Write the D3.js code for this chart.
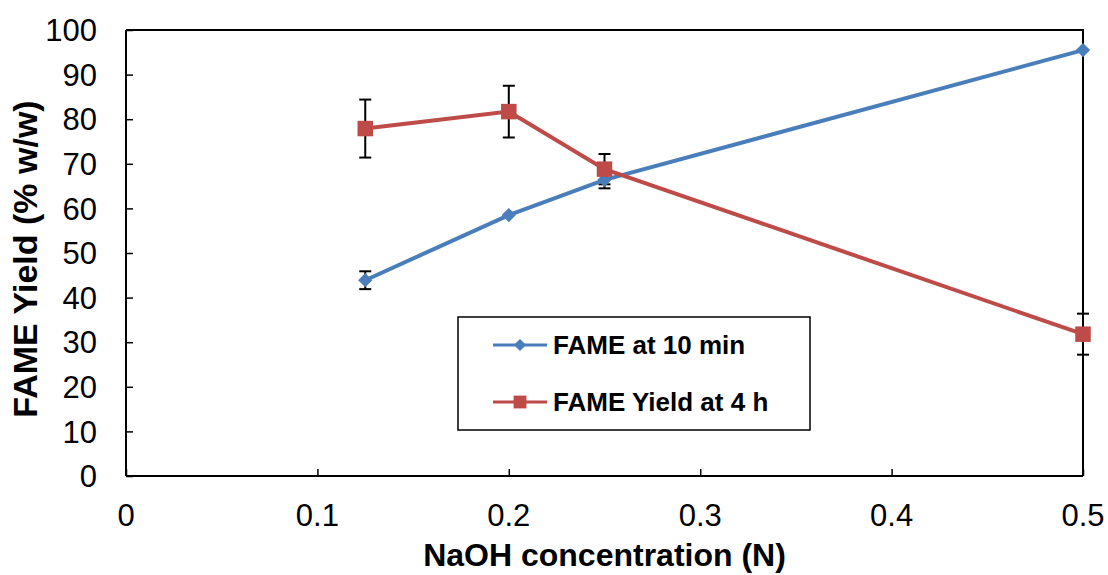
<!DOCTYPE html>
<html>
<head>
<meta charset="utf-8">
<script src="https://cdn.jsdelivr.net/npm/d3@7"></script>
<style>
  html, body { margin: 0; padding: 0; background: #fff; }
  svg { display: block; font-family: "Liberation Sans", Arial, sans-serif; }
</style>
</head>
<body>
<svg id="chart" width="1108" height="575"></svg>
<script>
// --- data ---
const NAOH = [0.125, 0.2, 0.25, 0.5];
const FAME_10MIN = [43.9, 58.5, 66.4, 95.5];
const FAME_10MIN_ERR = [2.0, 0, 1.9, 0];
const FAME_4H = [77.9, 81.7, 68.8, 31.8];
const FAME_4H_ERR = [6.5, 5.8, 3.4, 4.6];
const X_TICKS = [0, 0.1, 0.2, 0.3, 0.4, 0.5];
const Y_TICKS = [0, 10, 20, 30, 40, 50, 60, 70, 80, 90, 100];
const SERIES_NAMES = ['FAME at 10 min', 'FAME Yield at 4 h'];

const BLUE = '#4A7EBB';
const RED = '#BE4B48';

const svg = d3.select('#chart');
const L = 126, R = 1083, T = 30, B = 476;

const x = d3.scaleLinear().domain([0, 0.5]).range([L, R]);
const y = d3.scaleLinear().domain([0, 100]).range([B, T]);

// plot box (top + right lines)
svg.append('path')
  .attr('d', `M${L},${T}H${R}V${B}`)
  .attr('fill', 'none').attr('stroke', '#000').attr('stroke-width', 2);

// y axis: ticks inside, labels left
const yAxis = svg.append('g').attr('transform', `translate(${L},0)`)
  .call(d3.axisRight(y).tickValues(Y_TICKS).tickSize(7).tickFormat(''));
yAxis.select('.domain').attr('d', `M0,${T}V${B}`).attr('stroke-width', 2);
yAxis.selectAll('.tick line').attr('stroke-width', 1.5);
svg.append('g').selectAll('text').data(Y_TICKS).join('text')
  .attr('x', 97).attr('y', d => y(d)).attr('dy', '0.36em')
  .attr('text-anchor', 'end').attr('font-size', 31).text(d => d);

// x axis: ticks pointing up, labels below
const xAxis = svg.append('g').attr('transform', `translate(0,${B})`)
  .call(d3.axisTop(x).tickValues(X_TICKS).tickSize(7).tickFormat(''));
xAxis.select('.domain').attr('d', `M${L},0H${R}`).attr('stroke-width', 2);
xAxis.selectAll('.tick line').attr('stroke-width', 1.5);
svg.append('g').selectAll('text').data(X_TICKS).join('text')
  .attr('x', d => x(d)).attr('y', 526)
  .attr('text-anchor', 'middle').attr('font-size', 31).text(d => d);

// axis titles
svg.append('text')
  .attr('x', (L + R) / 2).attr('y', 566)
  .attr('text-anchor', 'middle').attr('font-size', 32).attr('font-weight', 'bold')
  .text('NaOH concentration (N)');
svg.append('text')
  .attr('transform', `translate(37,${(T + B) / 2 + 6}) rotate(-90)`)
  .attr('text-anchor', 'middle').attr('font-size', 34).attr('font-weight', 'bold')
  .text('FAME Yield (% w/w)');

// error bars
function errorBars(vals, errs){
  const g = svg.append('g').attr('stroke', '#000').attr('stroke-width', 2);
  NAOH.forEach((n, i) => {
    if (!errs[i]) return;
    const cx = x(n), y1 = y(vals[i] + errs[i]), y2 = y(vals[i] - errs[i]);
    g.append('line').attr('x1', cx).attr('x2', cx).attr('y1', y1).attr('y2', y2);
    g.append('line').attr('x1', cx - 6).attr('x2', cx + 6).attr('y1', y1).attr('y2', y1);
    g.append('line').attr('x1', cx - 6).attr('x2', cx + 6).attr('y1', y2).attr('y2', y2);
  });
}
errorBars(FAME_10MIN, FAME_10MIN_ERR);
errorBars(FAME_4H, FAME_4H_ERR);

const line = d3.line().x(d => x(d[0])).y(d => y(d[1]));
const diamond = d3.symbol().type(d3.symbolDiamond2);
const square = d3.symbol().type(d3.symbolSquare);

// series 1: blue diamonds
const s1 = NAOH.map((n, i) => [n, FAME_10MIN[i]]);
svg.append('path').datum(s1).attr('d', line)
  .attr('fill', 'none').attr('stroke', BLUE).attr('stroke-width', 4);
svg.append('g').selectAll('path').data(s1).join('path')
  .attr('transform', d => `translate(${x(d[0])},${y(d[1])})`)
  .attr('d', diamond.size(130)).attr('fill', BLUE);

// series 2: red squares
const s2 = NAOH.map((n, i) => [n, FAME_4H[i]]);
svg.append('path').datum(s2).attr('d', line)
  .attr('fill', 'none').attr('stroke', RED).attr('stroke-width', 4);
svg.append('g').selectAll('path').data(s2).join('path')
  .attr('transform', d => `translate(${x(d[0])},${y(d[1])})`)
  .attr('d', square.size(240)).attr('fill', RED);

// legend
const lg = svg.append('g');
lg.append('rect').attr('x', 458).attr('y', 317).attr('width', 352).attr('height', 113)
  .attr('fill', '#fff').attr('stroke', '#000').attr('stroke-width', 1.5);
const legendRows = [
  { name: SERIES_NAMES[0], color: BLUE, sym: diamond.size(95)(), y: 345 },
  { name: SERIES_NAMES[1], color: RED, sym: square.size(165)(), y: 402 }
];
legendRows.forEach(r => {
  lg.append('line').attr('x1', 493).attr('x2', 547).attr('y1', r.y).attr('y2', r.y)
    .attr('stroke', r.color).attr('stroke-width', 3);
  lg.append('path').attr('d', r.sym).attr('transform', `translate(520,${r.y})`).attr('fill', r.color);
  lg.append('text').attr('x', 553).attr('y', r.y).attr('dy', '0.36em')
    .attr('font-size', 26).attr('font-weight', 'bold').text(r.name);
});
</script>
</body>
</html>
